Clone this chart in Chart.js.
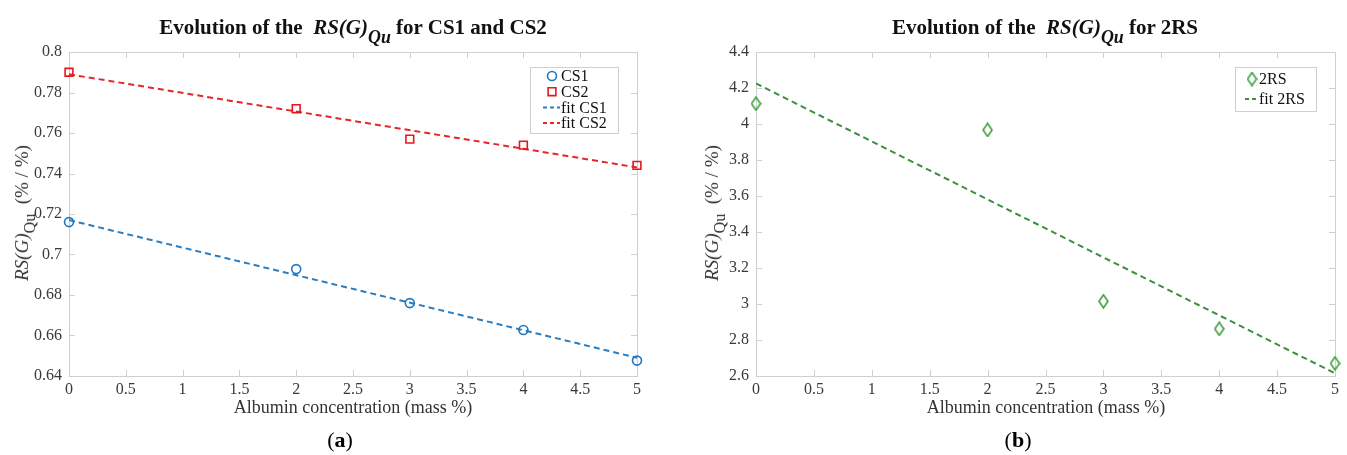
<!DOCTYPE html>
<html><head><meta charset="utf-8">
<script src="https://cdn.jsdelivr.net/npm/chart.js@4/dist/chart.umd.min.js"></script>
<style>
body{margin:0;background:#fff;width:1347px;height:455px;overflow:hidden;position:relative;font-family:"Liberation Serif",serif;}
canvas{position:absolute;top:0;}
.title{position:absolute;top:15px;font-weight:bold;font-size:21px;color:#111;white-space:nowrap;transform:translateX(-50%);line-height:24px;}
.title i{font-style:italic;}
.title sub{font-size:0.85em;vertical-align:-0.5em;line-height:0;}
.ytitle{position:absolute;transform:translate(-50%,-50%) rotate(-90deg);white-space:nowrap;font-size:19px;color:#333;line-height:20px;}
.ytitle sub{font-size:0.85em;vertical-align:-0.45em;line-height:0;}
.xtitle{position:absolute;top:397px;transform:translateX(-50%);font-size:18px;color:#333;white-space:nowrap;line-height:20px;}
.cap{position:absolute;top:427px;transform:translateX(-50%);font-size:22px;color:#000;line-height:26px;}
</style>
</head><body>
<canvas id="ca" width="680" height="455" style="left:0"></canvas>
<canvas id="cb" width="667" height="455" style="left:680px"></canvas>
<div class="title" style="left:353px">Evolution of the&nbsp; <i>RS(G)</i><sub><i>Qu</i></sub> for CS1 and CS2</div>
<div class="title" style="left:1045px">Evolution of the&nbsp; <i>RS(G)</i><sub><i>Qu</i></sub> for 2RS</div>
<div class="ytitle" style="left:22px;top:213px"><i>RS(G)</i><sub>Qu</sub>&nbsp; (% / %)</div>
<div class="ytitle" style="left:712px;top:213px"><i>RS(G)</i><sub>Qu</sub>&nbsp; (% / %)</div>
<div class="xtitle" style="left:353px">Albumin concentration (mass %)</div>
<div class="xtitle" style="left:1046px">Albumin concentration (mass %)</div>
<div class="cap" style="left:340px">(<b>a</b>)</div>
<div class="cap" style="left:1018px">(<b>b</b>)</div>
<script>
// ---- data ----
const concentration = [0, 2, 3, 4, 5];
const cs1 = [0.716, 0.6928, 0.676, 0.6627, 0.6476];
const cs2 = [0.790, 0.772, 0.757, 0.754, 0.744];
const fitConc = [0, 5];
const fitCS1 = [0.717, 0.649];
const fitCS2 = [0.789, 0.743];
const rs2 = [4.113, 3.967, 3.015, 2.862, 2.67];
const fit2RS = [4.225, 2.615];
const seriesLabelsA = ["CS1", "CS2", "fit CS1", "fit CS2"];
const seriesLabelsB = ["2RS", "fit 2RS"];
const xTickRange = [0, 5, 0.5];
const yTickRangeA = [0.64, 0.8, 0.02];
const yTickRangeB = [2.6, 4.4, 0.2];

const pts = (xs, ys) => xs.map((x, i) => ({x: x, y: ys[i]}));

const BLUE = '#1f78c1', RED = '#e8161c', GREEN = '#3f9f3f';
const FONT = '"Liberation Serif", serif';

// tall diamond marker
function diamond(color){
  const c = document.createElement('canvas');
  c.width = 11; c.height = 15;
  const g = c.getContext('2d');
  g.strokeStyle = color; g.lineWidth = 1.6;
  g.beginPath(); g.moveTo(5.5,1); g.lineTo(10,7.5); g.lineTo(5.5,14); g.lineTo(1,7.5); g.closePath(); g.stroke();
  return c;
}

const boxPlugin = {
  id: 'boxTicks',
  beforeDatasetsDraw(chart){
    const {ctx, chartArea: a, scales: {x, y}} = chart;
    ctx.save();
    ctx.strokeStyle = '#cfcfcf'; ctx.lineWidth = 1;
    ctx.strokeRect(Math.round(a.left)+0.5, Math.round(a.top)+0.5, Math.round(a.right-a.left), Math.round(a.bottom-a.top));
    ctx.beginPath();
    x.ticks.forEach(t => {
      const p = Math.round(x.getPixelForValue(t.value))+0.5;
      ctx.moveTo(p, a.bottom); ctx.lineTo(p, a.bottom-6);
      ctx.moveTo(p, a.top); ctx.lineTo(p, a.top+6);
    });
    y.ticks.forEach(t => {
      const p = Math.round(y.getPixelForValue(t.value))+0.5;
      ctx.moveTo(a.left, p); ctx.lineTo(a.left+6, p);
      ctx.moveTo(a.right, p); ctx.lineTo(a.right-6, p);
    });
    ctx.stroke();
    ctx.restore();
  }
};

const legendPlugin = {
  id: 'boxLegend',
  afterDatasetsDraw(chart, args, o){
    const ctx = chart.ctx;
    ctx.save();
    ctx.fillStyle = '#fff';
    ctx.fillRect(o.x, o.y, o.w, o.h);
    ctx.strokeStyle = '#cfcfcf'; ctx.lineWidth = 1;
    ctx.strokeRect(o.x+0.5, o.y+0.5, o.w, o.h);
    ctx.font = '16px ' + FONT;
    ctx.textBaseline = 'middle';
    chart.data.datasets.forEach((ds, i) => {
      const cy = o.y + o.top + i*o.row;
      if (ds.showLine) {
        ctx.strokeStyle = ds.borderColor; ctx.lineWidth = 2;
        ctx.setLineDash([4,3]);
        ctx.beginPath(); ctx.moveTo(o.x + o.lineX0, cy); ctx.lineTo(o.x + o.lineX1, cy); ctx.stroke();
        ctx.setLineDash([]);
      } else {
        ctx.fillStyle = 'rgba(0,0,0,0)';
        ctx.strokeStyle = ds.borderColor; ctx.lineWidth = ds.borderWidth;
        Chart.helpers.drawPoint(ctx, {pointStyle: ds.pointStyle, radius: ds.pointRadius, rotation: 0, borderWidth: ds.borderWidth}, o.x + o.markX, cy);
      }
      ctx.fillStyle = '#111';
      ctx.fillText(ds.label, o.x + o.textX, cy + 1);
    });
    ctx.restore();
  }
};

function makeOptions(yr, yDigits, leftW, padRight, legend){
  return {
    responsive: false, animation: false, devicePixelRatio: 1,
    layout: {padding: {top: 52, right: padRight, left: 0, bottom: 0}},
    plugins: {legend: {display: false}, tooltip: {enabled: false}, boxLegend: legend},
    scales: {
      x: {
        type: 'linear', min: xTickRange[0], max: xTickRange[1],
        grid: {display: false, drawTicks: false}, border: {display: false},
        ticks: {stepSize: xTickRange[2], autoSkip: false, maxRotation: 0, padding: 4, color: '#3a3a3a',
                font: {family: FONT, size: 16}, callback: v => String(+v.toFixed(2))},
        afterFit: s => { s.height = 455 - 376; }
      },
      y: {
        type: 'linear', min: yr[0], max: yr[1],
        grid: {display: false, drawTicks: false}, border: {display: false},
        ticks: {stepSize: yr[2], autoSkip: false, padding: 7, color: '#3a3a3a',
                font: {family: FONT, size: 16}, callback: v => String(+v.toFixed(yDigits))},
        afterFit: s => { s.width = leftW; }
      }
    }
  };
}

new Chart(document.getElementById('ca'), {
  type: 'scatter',
  data: {datasets: [
    {label: seriesLabelsA[0], data: pts(concentration, cs1), pointStyle: 'circle', pointRadius: 4.5, borderColor: BLUE, backgroundColor: 'rgba(0,0,0,0)', borderWidth: 1.6, showLine: false, clip: false},
    {label: seriesLabelsA[1], data: pts(concentration, cs2), pointStyle: 'rect', pointRadius: 5.5, borderColor: RED, backgroundColor: 'rgba(0,0,0,0)', borderWidth: 1.6, showLine: false, clip: false},
    {label: seriesLabelsA[2], data: pts(fitConc, fitCS1), showLine: true, pointRadius: 0, borderColor: '#2b7dbf', borderWidth: 2, borderDash: [6,4]},
    {label: seriesLabelsA[3], data: pts(fitConc, fitCS2), showLine: true, pointRadius: 0, borderColor: '#e8262a', borderWidth: 2, borderDash: [6,4]}
  ]},
  options: makeOptions(yTickRangeA, 2, 69, 680-637,
    {x: 530, y: 67, w: 88, h: 66, top: 9, row: 15.7, markX: 22, lineX0: 13, lineX1: 30, textX: 31}),
  plugins: [boxPlugin, legendPlugin]
});

new Chart(document.getElementById('cb'), {
  type: 'scatter',
  data: {datasets: [
    {label: seriesLabelsB[0], data: pts(concentration, rs2), pointStyle: diamond(GREEN), pointRadius: 6, borderColor: GREEN, backgroundColor: 'rgba(0,0,0,0)', borderWidth: 1.6, showLine: false, clip: false},
    {label: seriesLabelsB[1], data: pts(fitConc, fit2RS), showLine: true, pointRadius: 0, borderColor: '#3c8f3c', borderWidth: 2, borderDash: [6,4]}
  ]},
  options: makeOptions(yTickRangeB, 1, 76, 667-655,
    {x: 1235-680, y: 67, w: 81, h: 44, top: 12, row: 20, markX: 17, lineX0: 10, lineX1: 23, textX: 24}),
  plugins: [boxPlugin, legendPlugin]
});
</script>
</body></html>
